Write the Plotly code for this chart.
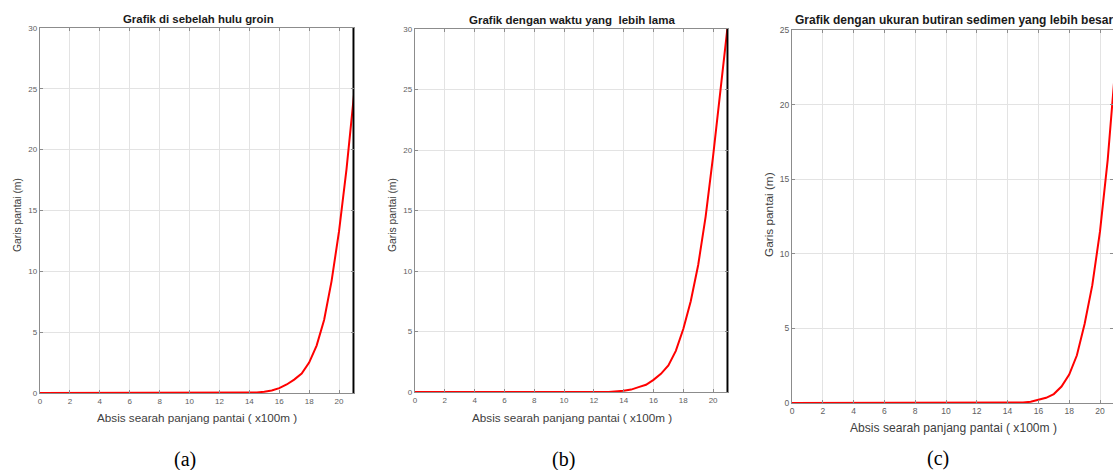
import plotly.graph_objects as go

# ---- data ----
x_vals = [0, 1, 2, 3, 4, 5, 6, 7, 8, 9, 10, 11, 12, 13, 14, 14.5, 15, 15.5, 16,
          16.5, 17, 17.5, 18, 18.5, 19, 19.5, 20, 20.5, 21]
y_a = [0, 0, 0, 0, 0, 0, 0, 0, 0, 0, 0, 0, 0, 0, 0.02, 0.05, 0.1, 0.2, 0.4,
       0.7, 1.1, 1.6, 2.5, 3.9, 6.0, 9.2, 13.3, 18.4, 24.5]
y_b = [0, 0, 0, 0, 0, 0, 0, 0, 0, 0, 0, 0, 0, 0.01, 0.1, 0.2, 0.4, 0.6, 1.0,
       1.5, 2.2, 3.4, 5.2, 7.5, 10.5, 14.5, 19.5, 25.0, 30.5]
y_c = [0, 0, 0, 0, 0, 0, 0, 0, 0, 0, 0, 0, 0, 0, 0.01, 0.02, 0.03, 0.08, 0.2,
       0.35, 0.6, 1.1, 1.9, 3.2, 5.3, 7.9, 11.5, 16.3, 22.6]
groin_x = [21, 21]
groin_y = [0, 30]

titles = ["Grafik di sebelah hulu groin",
          "Grafik dengan waktu yang  lebih lama",
          "Grafik dengan ukuran butiran sedimen yang lebih besar"]
xlabel = "Absis searah panjang pantai ( x100m )"
ylabel = "Garis pantai (m)"
sublabels = ["(a)", "(b)", "(c)"]
x_ticks = [0, 2, 4, 6, 8, 10, 12, 14, 16, 18, 20]
y_ticks_ab = [0, 5, 10, 15, 20, 25, 30]
y_ticks_c = [0, 5, 10, 15, 20, 25]

W, H = 1113, 470
def px(x): return x / W
def py(y): return 1 - y / H

fig = go.Figure()
RED = "#ff0000"
fig.add_trace(go.Scatter(x=x_vals, y=y_a, mode="lines", line=dict(color=RED, width=2),
                         xaxis="x", yaxis="y"))
fig.add_trace(go.Scatter(x=groin_x, y=groin_y, mode="lines", line=dict(color="black", width=3),
                         xaxis="x", yaxis="y"))
fig.add_trace(go.Scatter(x=x_vals, y=y_b, mode="lines", line=dict(color=RED, width=2),
                         xaxis="x2", yaxis="y2"))
fig.add_trace(go.Scatter(x=groin_x, y=groin_y, mode="lines", line=dict(color="black", width=3),
                         xaxis="x2", yaxis="y2"))
fig.add_trace(go.Scatter(x=x_vals, y=y_c, mode="lines", line=dict(color=RED, width=2),
                         xaxis="x3", yaxis="y3"))

axis_common = dict(showline=True, mirror="ticks", linecolor="#8c8c8c", linewidth=1.3,
                   ticks="inside", ticklen=3, tickcolor="#8c8c8c", automargin=False,
                   showgrid=True, gridcolor="#e3e3e3", gridwidth=1, zeroline=False,
                   fixedrange=True)

doms = [([40, 354], [28, 393]), ([415, 728], [29, 392]), ([792, 1113], [30, 403])]
xranges = [[0, 21], [0, 21], [0, (1113 - 792) / 15.4]]
yranges = [[0, 30], [0, 30], [0, 25]]
yticks = [y_ticks_ab, y_ticks_ab, y_ticks_c]
tick_sizes = [8, 8, 8.5]
layout = {}
for i in range(3):
    s = "" if i == 0 else str(i + 1)
    (x0, x1), (yt, yb) = doms[i]
    tf = dict(family="Liberation Sans, Arial", size=tick_sizes[i], color="#606060")
    layout["xaxis" + s] = dict(axis_common, domain=[px(x0), min(1.0, px(x1))], range=xranges[i],
                               tickvals=x_ticks, anchor="y" + s, tickfont=tf)
    layout["yaxis" + s] = dict(axis_common, domain=[py(yb), py(yt)], range=yranges[i],
                               tickvals=yticks[i], anchor="x" + s, tickfont=tf)

anns = []
title_pos = [(198, 19, 11.4), (572, 20, 11.5), (954, 20, 12)]
xlab_pos = [(197, 417, 11.7), (572, 417, 11.7), (953, 428, 12.1)]
ylab_pos = [(18, 215, 10.3), (393, 215, 10.3), (769, 215, 11.8)]
sub_pos = [(185, 459), (563, 459), (938, 458)]
for i in range(3):
    tx, ty, ts = title_pos[i]
    anns.append(dict(x=px(tx), y=py(ty), xref="paper", yref="paper", text="<b>" + titles[i] + "</b>",
                     showarrow=False, xanchor="center", yanchor="middle",
                     font=dict(family="Liberation Sans, Arial", size=ts, color="#1a1a1a")))
    lx, ly, ls = xlab_pos[i]
    anns.append(dict(x=px(lx), y=py(ly), xref="paper", yref="paper", text=xlabel,
                     showarrow=False, xanchor="center", yanchor="middle",
                     font=dict(family="Liberation Sans, Arial", size=ls, color="#404040")))
    yx, yy, ys = ylab_pos[i]
    anns.append(dict(x=px(yx), y=py(yy), xref="paper", yref="paper", text=ylabel, textangle=-90,
                     showarrow=False, xanchor="center", yanchor="middle",
                     font=dict(family="Liberation Sans, Arial", size=ys, color="#404040")))
    sx, sy = sub_pos[i]
    anns.append(dict(x=px(sx), y=py(sy), xref="paper", yref="paper", text=sublabels[i],
                     showarrow=False, xanchor="center", yanchor="middle",
                     font=dict(family="Liberation Serif, Times New Roman", size=20, color="#000000")))

fig.update_layout(**layout)
fig.update_layout(width=W, height=H, margin=dict(l=0, r=0, t=0, b=0, autoexpand=False),
                  paper_bgcolor="white", plot_bgcolor="white", showlegend=False,
                  annotations=anns, hovermode=False)
fig.write_html("out.html", config={"displayModeBar": False},
               post_script="document.body.style.margin='0px';document.body.style.overflow='hidden';")
